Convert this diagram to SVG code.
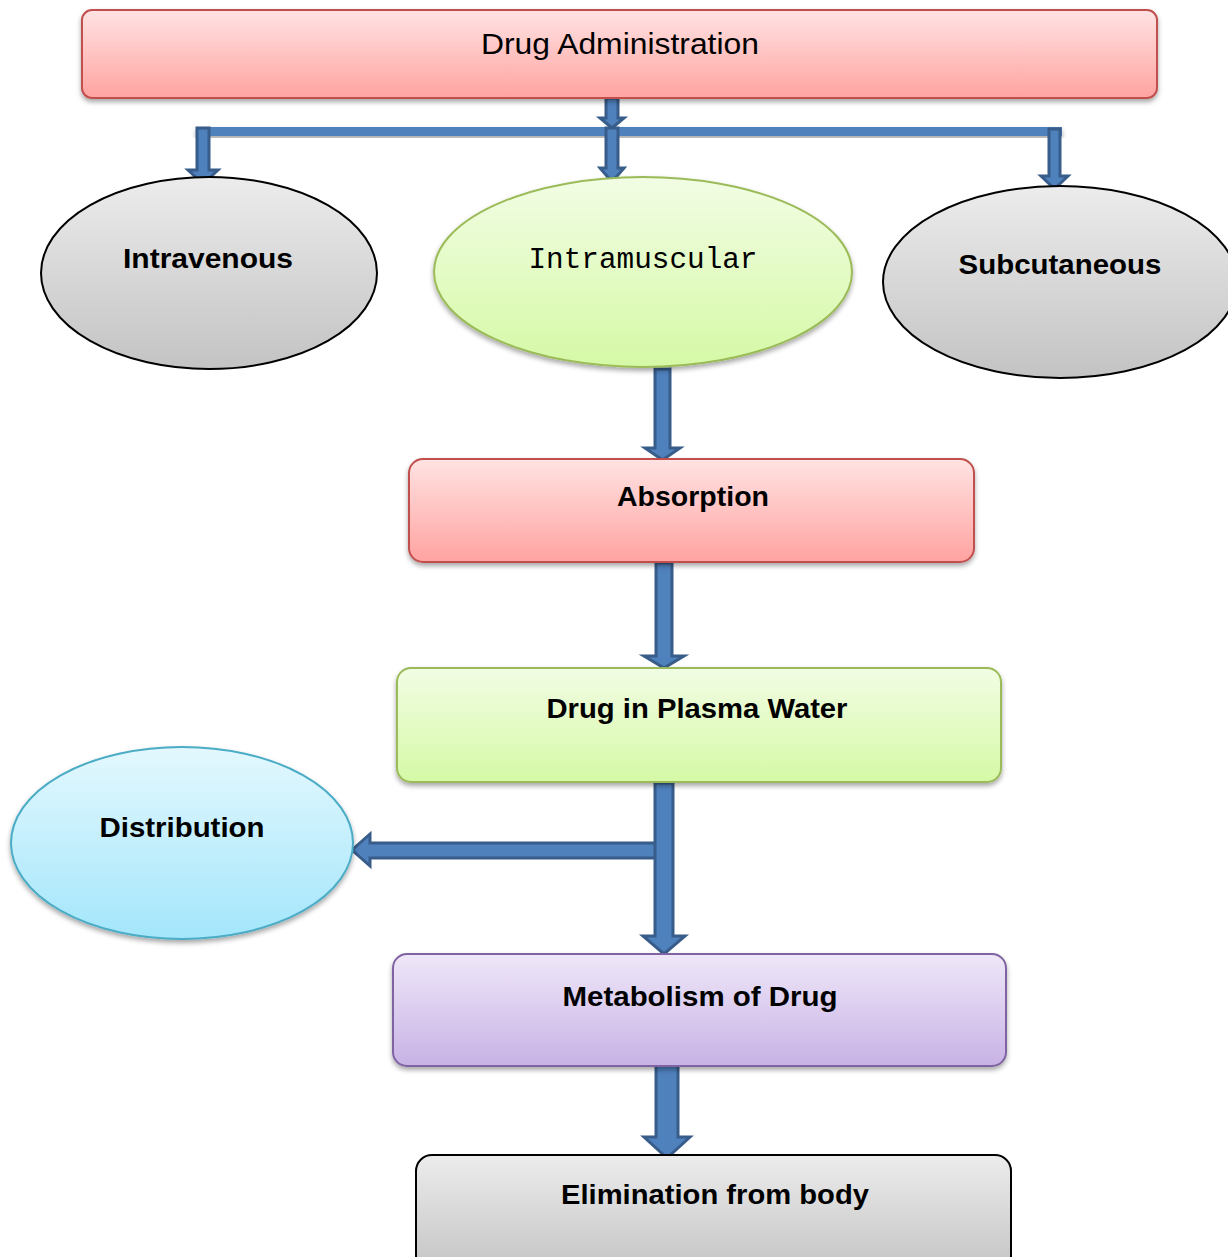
<svg xmlns="http://www.w3.org/2000/svg" width="1228" height="1257" viewBox="0 0 1228 1257">
<defs>
<linearGradient id="gRed" x1="0" y1="0" x2="0" y2="1"><stop offset="0" stop-color="#ffe3e3"/><stop offset="1" stop-color="#ffa3a0"/></linearGradient>
<linearGradient id="gGreen" x1="0" y1="0" x2="0" y2="1"><stop offset="0" stop-color="#f2fde4"/><stop offset="1" stop-color="#d5f9a6"/></linearGradient>
<linearGradient id="gGray" x1="0" y1="0" x2="0" y2="1"><stop offset="0" stop-color="#ececec"/><stop offset="1" stop-color="#c3c3c3"/></linearGradient>
<linearGradient id="gCyan" x1="0" y1="0" x2="0" y2="1"><stop offset="0" stop-color="#e4f8fe"/><stop offset="1" stop-color="#a3e6fb"/></linearGradient>
<linearGradient id="gPurple" x1="0" y1="0" x2="0" y2="1"><stop offset="0" stop-color="#efe7f8"/><stop offset="1" stop-color="#c8b2e6"/></linearGradient>
<filter id="sh" x="-10%" y="-10%" width="120%" height="130%"><feDropShadow dx="0" dy="3" stdDeviation="2.5" flood-color="#000" flood-opacity="0.35"/></filter>
<style>
.lbl{font-family:"Liberation Sans",Arial,sans-serif;font-weight:bold;font-size:28px;fill:#000;text-anchor:middle}
.plain{font-family:"Liberation Sans",Arial,sans-serif;font-size:30px;fill:#000;text-anchor:middle}
.mono{font-family:"Liberation Mono","DejaVu Sans Mono",monospace;font-size:29px;fill:#000;text-anchor:middle}
.arr{fill:#4f81bd;stroke:#385d8a;stroke-width:3;stroke-linejoin:miter}
.bar{fill:#4f81bd}
</style>
</defs>

<g id="connectors">
<rect class="bar" x="196" y="127" width="866" height="9" filter="url(#sh)"/>
<path class="arr" d="M606 98 H618 V118 H624 L612 128 L600 118 H606 Z"/>
<path class="arr" d="M197 128 H209 V170 H218 L203 184 L188 170 H197 Z"/>
<path class="arr" d="M606 128 H618 V168 H624 L612 182 L600 168 H606 Z"/>
<path class="arr" d="M1049 129 H1060 V176 H1068 L1054.5 189 L1041 176 H1049 Z"/>
<path class="arr" d="M655 369 H670 V448 H680 L662.5 460 L645 448 H655 Z"/>
<path class="arr" d="M656 563 H672 V656 H684 L664 668 L644 656 H656 Z"/>
<path class="arr" d="M657 810 V858 H370 L370 866 L352 850 L370 834 V843 H657"/>
<path class="arr" d="M655 783 H673 V936 H685 L664 954 L643 936 H655 Z"/>
<path class="arr" d="M656 1059 H678 V1137 H690 L667 1158 L644 1137 H656 Z"/>
</g>

<g id="drug-administration">
<rect x="82" y="10" width="1075" height="88" rx="10" fill="url(#gRed)" stroke="#c0504d" stroke-width="2" filter="url(#sh)"/>
<text class="plain" x="620" y="54" textLength="278" lengthAdjust="spacingAndGlyphs">Drug Administration</text>
</g>

<g id="intravenous">
<ellipse cx="209" cy="273" rx="168" ry="96" fill="url(#gGray)" stroke="#000" stroke-width="2"/>
<text class="lbl" x="208" y="268" textLength="170" lengthAdjust="spacingAndGlyphs">Intravenous</text>
</g>

<g id="intramuscular">
<ellipse cx="643" cy="272" rx="209" ry="95" fill="url(#gGreen)" stroke="#9bbb59" stroke-width="2" filter="url(#sh)"/>
<text class="mono" x="643" y="268" textLength="229" lengthAdjust="spacingAndGlyphs">Intramuscular</text>
</g>

<g id="subcutaneous">
<ellipse cx="1060" cy="282" rx="177" ry="96" fill="url(#gGray)" stroke="#000" stroke-width="2"/>
<text class="lbl" x="1060" y="274" textLength="203" lengthAdjust="spacingAndGlyphs">Subcutaneous</text>
</g>

<g id="absorption">
<rect x="409" y="459" width="565" height="103" rx="14" fill="url(#gRed)" stroke="#c0504d" stroke-width="2" filter="url(#sh)"/>
<text class="lbl" x="693" y="506" textLength="152" lengthAdjust="spacingAndGlyphs">Absorption</text>
</g>

<g id="drug-in-plasma-water">
<rect x="397" y="668" width="604" height="114" rx="14" fill="url(#gGreen)" stroke="#9bbb59" stroke-width="2" filter="url(#sh)"/>
<text class="lbl" x="697" y="718" textLength="301" lengthAdjust="spacingAndGlyphs">Drug in Plasma Water</text>
</g>

<g id="distribution">
<ellipse cx="182" cy="843" rx="171" ry="96" fill="url(#gCyan)" stroke="#4bacc6" stroke-width="2" filter="url(#sh)"/>
<text class="lbl" x="182" y="837" textLength="165" lengthAdjust="spacingAndGlyphs">Distribution</text>
</g>

<g id="metabolism-of-drug">
<rect x="393" y="954" width="613" height="112" rx="14" fill="url(#gPurple)" stroke="#8064a2" stroke-width="2" filter="url(#sh)"/>
<text class="lbl" x="700" y="1006" textLength="275" lengthAdjust="spacingAndGlyphs">Metabolism of Drug</text>
</g>

<g id="elimination-from-body">
<rect x="416" y="1155" width="595" height="120" rx="16" fill="url(#gGray)" stroke="#000" stroke-width="2"/>
<text class="lbl" x="715" y="1204" textLength="308" lengthAdjust="spacingAndGlyphs">Elimination from body</text>
</g>
</svg>
